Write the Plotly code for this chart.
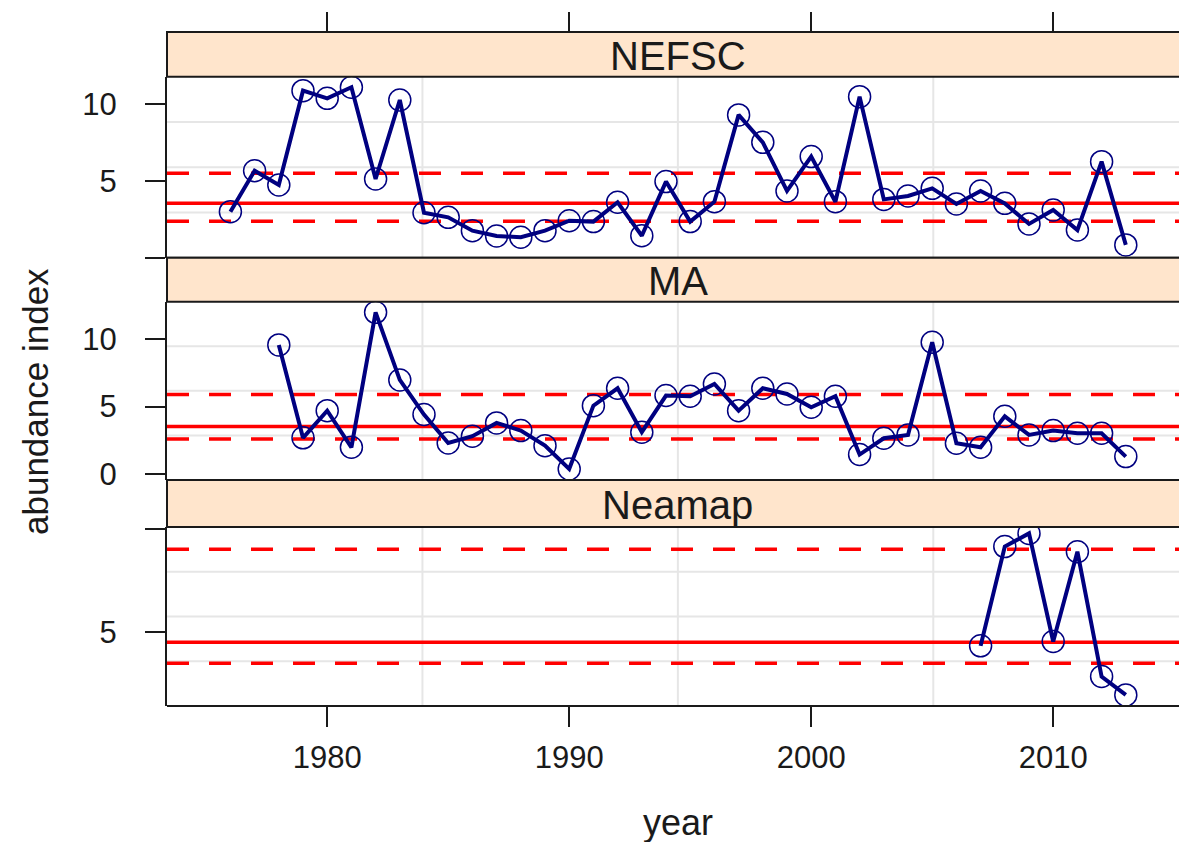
import plotly.graph_objects as go

# ---- data -------------------------------------------------------------
nefsc_years = list(range(1976, 2014))
nefsc_index = [3.00, 5.67, 4.74, 10.89, 10.39, 11.11, 5.13, 10.28, 2.93, 2.63,
               1.76, 1.41, 1.33, 1.76, 2.41, 2.35, 3.61, 1.43, 4.96, 2.35,
               3.65, 9.31, 7.52, 4.35, 6.59, 3.65, 10.50, 3.80, 4.02, 4.52,
               3.50, 4.35, 3.54, 2.20, 3.11, 1.80, 6.26, 0.83]

ma_years = list(range(1978, 2014))
ma_index = [9.58, 2.68, 4.70, 1.98, 12.00, 6.98, 4.41, 2.30, 2.80, 3.79,
            3.22, 2.10, 0.37, 5.07, 6.36, 3.10, 5.82, 5.77, 6.68, 4.70,
            6.36, 5.94, 4.95, 5.77, 1.44, 2.65, 2.90, 9.78, 2.28, 1.98,
            4.28, 2.90, 3.22, 3.02, 3.02, 1.29]

neamap_years = list(range(2007, 2014))
neamap_index = [4.34, 9.16, 9.80, 4.55, 8.91, 2.85, 1.96]

survey_names = ["NEFSC", "MA", "Neamap"]
# reference levels per survey: centre line, lower and upper dashed bounds
ref_mid = [3.55, 3.52, 4.51]
ref_low = [2.37, 2.60, 3.50]
ref_high = [5.50, 5.89, 9.03]

x_ticks = [1980, 1990, 2000, 2010]
y_ticks = [[0, 5, 10], [0, 5, 10], [5, 10]]
y_tick_text = [["", "5", "10"], ["0", "5", "10"], ["5", ""]]

# ---- layout geometry ----------------------------------------------------
W, H = 1179, 842
ML, MT, MB = 167, 32, 136
plot_h = H - MT - MB


def py(pix):
    """pixel row -> paper fraction"""
    return (H - MB - pix) / plot_h


panel_rows = [(76.7, 257.7), (301.7, 480.0), (527.0, 706.0)]
strip_rows = [(32.0, 76.7), (257.7, 301.7), (480.0, 527.0)]
y_ranges = [[-0.003, 11.8], [-0.45, 12.79], [1.42, 10.11]]

x_full = [1973.38, 2015.6]                 # full panel span
x_range = [1973.38, 1973.38 + (W - ML) / 24.2]  # visible span

FONT = "Liberation Sans, Arial, sans-serif"
NAVY = "#000080"

fig = go.Figure()

series = [(nefsc_years, nefsc_index), (ma_years, ma_index), (neamap_years, neamap_index)]
for i, (xs, ys) in enumerate(series):
    sfx = "" if i == 0 else str(i + 1)
    fig.add_trace(go.Scatter(
        x=xs, y=ys, mode="lines+markers",
        xaxis="x" + sfx, yaxis="y" + sfx,
        line=dict(color=NAVY, width=4),
        marker=dict(symbol="circle-open", size=22, color=NAVY,
                    line=dict(color=NAVY, width=1.5)),
        showlegend=False, hoverinfo="skip"))

shapes = []
annotations = []
for i in range(3):
    sfx = "" if i == 0 else str(i + 1)
    xa, ya = "x" + sfx, "y" + sfx
    # background grid at quarter positions of each panel
    for f in (0.25, 0.5, 0.75):
        shapes.append(dict(type="line", xref=xa + " domain", yref=ya + " domain",
                           x0=0, x1=1, y0=f, y1=f, layer="below",
                           line=dict(color="#E6E6E6", width=2)))
        gx = x_full[0] + f * (x_full[1] - x_full[0])
        shapes.append(dict(type="line", xref=xa, yref=ya + " domain",
                           x0=gx, x1=gx, y0=0, y1=1, layer="below",
                           line=dict(color="#E6E6E6", width=2)))
    # reference lines
    shapes.append(dict(type="line", xref=xa + " domain", yref=ya, x0=0, x1=1,
                       y0=ref_mid[i], y1=ref_mid[i], layer="below",
                       line=dict(color="#FF0000", width=3.5)))
    for v in (ref_low[i], ref_high[i]):
        shapes.append(dict(type="line", xref=xa + " domain", yref=ya, x0=0, x1=1,
                           y0=v, y1=v, layer="below",
                           line=dict(color="#FF0000", width=3.5, dash="22px,20px")))
    # strip
    s0, s1 = strip_rows[i]
    shapes.append(dict(type="rect", xref="paper", yref="paper",
                       x0=0, x1=1.05, y0=py(s1), y1=py(s0),
                       fillcolor="#FFE5CC", line=dict(color="#1a1a1a", width=2),
                       layer="above"))
    annotations.append(dict(xref="x", yref="paper",
                            x=(x_full[0] + x_full[1]) / 2, y=py((s0 + s1) / 2 + 1.5),
                            text=survey_names[i], showarrow=False,
                            xanchor="center", yanchor="middle",
                            font=dict(family=FONT, size=40, color="#1a1a1a")))
    # panel frame (bottom edge)
    p0, p1 = panel_rows[i]
    shapes.append(dict(type="line", xref="paper", yref="paper",
                       x0=0, x1=1.05, y0=py(p1), y1=py(p1),
                       line=dict(color="#1a1a1a", width=2), layer="above"))

annotations.append(dict(xref="paper", yref="paper", x=(35 - ML) / (W - ML), y=py(402),
                        text="abundance index", textangle=-90, showarrow=False,
                        xanchor="center", yanchor="middle",
                        font=dict(family=FONT, size=35, color="#1a1a1a")))
annotations.append(dict(xref="x", yref="paper", x=(x_full[0] + x_full[1]) / 2,
                        y=py(822), text="year", showarrow=False,
                        xanchor="center", yanchor="middle",
                        font=dict(family=FONT, size=36, color="#1a1a1a")))

layout = dict(
    width=W, height=H,
    margin=dict(l=ML, r=0, t=MT, b=MB, pad=0),
    paper_bgcolor="white", plot_bgcolor="white",
    shapes=shapes, annotations=annotations,
)

tick_font = dict(family=FONT, size=31, color="#1a1a1a")
for i in range(3):
    sfx = "" if i == 0 else str(i + 1)
    p0, p1 = panel_rows[i]
    layout["yaxis" + sfx] = dict(
        domain=[py(p1), py(p0)], range=y_ranges[i], anchor="x" + sfx,
        tickvals=y_ticks[i], ticktext=y_tick_text[i],
        ticks="outside", ticklen=20, tickwidth=2, tickcolor="#1a1a1a",
        showline=True, linecolor="#1a1a1a", linewidth=2,
        showgrid=False, zeroline=False, tickfont=tick_font,
        ticklabelstandoff=22)
    xa = dict(range=x_range, showgrid=False, zeroline=False, showline=False,
              tickvals=x_ticks, ticks="", showticklabels=False)
    if i == 0:
        # top tick marks sit above the first strip
        xa.update(anchor="free", position=1.0, side="top", ticks="outside",
                  ticklen=20, tickwidth=2, tickcolor="#1a1a1a")
    elif i == 1:
        xa.update(anchor="y2")
    else:
        xa.update(anchor="y3", ticks="outside", ticklen=20, tickwidth=2,
                  tickcolor="#1a1a1a", showticklabels=True, tickfont=tick_font,
                  ticklabelstandoff=4)
    layout["xaxis" + sfx] = xa

fig.update_layout(**layout)
fig.write_html("out.html")
